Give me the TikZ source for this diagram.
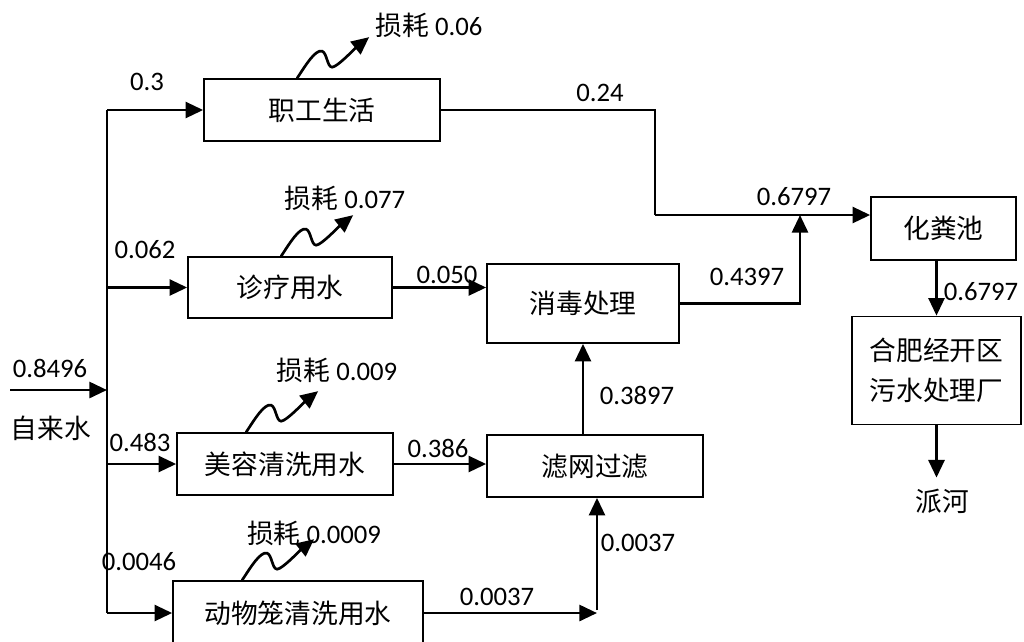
\documentclass[tikz,border=0pt]{standalone}
\usepackage{fontspec}
\setmainfont{Carlito}
\newfontfamily\cjk{Noto Sans CJK SC}
\usetikzlibrary{arrows.meta}
\usetikzlibrary{calc}
\tikzset{box/.style={draw,line width=1.2pt,inner sep=0pt},pipe/.style={line width=1.9pt},flow/.style={pipe,-{Triangle[length=0.44cm,width=0.4cm]}},wave/.style={flow,line cap=round}}

\begin{document}
\begin{tikzpicture}[x=0.025cm,y=-0.025cm,font=\fontsize{19}{23}\selectfont]
\useasboundingbox (0,0) rectangle (1024,641);
% boxes
\node (zg) at (322,110) [box,minimum width=5.9cm,minimum height=1.55cm] {\cjk 职工生活};
\node (zl) at (290,287.5) [box,minimum width=5.1cm,minimum height=1.525cm] {\cjk 诊疗用水};
\node (mr) at (285,464) [box,minimum width=5.4cm,minimum height=1.55cm] {\cjk 美容清洗用水};
\node (dw) at (298,613) [box,minimum width=6.25cm,minimum height=1.6cm] {\cjk 动物笼清洗用水};
\node (xd) at (583,303.5) [box,minimum width=4.8cm,minimum height=1.975cm] {\cjk 消毒处理};
\node (lw) at (595,466) [box,minimum width=5.4cm,minimum height=1.55cm] {\cjk 滤网过滤};
\node (hf) at (943.5,228.5) [box,minimum width=3.625cm,minimum height=1.575cm] {\cjk 化粪池};
\node (wc) at (936.5,370.5) [box,minimum width=4.225cm,minimum height=2.7cm,align=center,font=\fontsize{19}{28.5}\selectfont] {\cjk 合肥经开区\\\cjk 污水处理厂};
\node (river) at (942,501) [inner sep=0.27cm] {\cjk 派河};
% junctions
\coordinate (src) at (10,390);
\coordinate (tr) at (107,390);
\coordinate (k2) at (655,215);
\coordinate (m) at (800,215);
\coordinate (j) at (597,610);
% supply
\draw[flow] (src) -- (tr);
\draw[pipe] (tr |- zg.west) -- (tr |- dw.west);
\foreach \b in {zg,zl,mr,dw} {
\draw[flow] (tr |- \b.west) -- (\b.west);
}
% losses
\foreach \b/\dx in {zg/94,zl/94,mr/70,dw/70} {
\draw[wave] ($(\b.north west)+(\dx,0)$) .. controls +(8,-12) and +(-7,-2) .. ++(25,-27) .. controls +(5,2) and +(-5,0) .. ++(10,16) .. controls +(5,0) and +(-15,12) .. ++(37,-30);
}
% sewage
\draw[flow] (zl.east) -- (zl.east -| xd.west);
\draw[flow] (mr.east) -- (mr.east -| lw.west);
\draw[flow] (xd.south |- lw.north) -- (xd.south);
\draw[flow] (dw.east) -- (dw.east -| j);
\draw[flow] (j) -- (j |- lw.south);
\draw[pipe] (zg.east) -| (k2);
\draw[flow] (k2) -- (hf.west |- k2);
\draw[flow] (xd.east) -| (m);
\draw[flow] (wc.north |- hf.south) -- (wc.north);
\draw[flow] (wc.south) -- (wc.south |- river.north);
% labels
\node (l0) at (50,368) {0.8496};
\node (lsrc) at (51,428) {\cjk 自来水};
\node (l1) at (147,82) {0.3};
\node (l2) at (145,250) {0.062};
\node (l3) at (140,442) {0.483};
\node (l4) at (139,562) {0.0046};
\node (l5) at (600,93) {0.24};
\node (l6) at (447,275) {0.050};
\node (l7) at (438,448) {0.386};
\node (l8) at (637,395) {0.3897};
\node (l9) at (747,277) {0.4397};
\node (l10) at (794,197) {0.6797};
\node (l11) at (981,292) {0.6797};
\node (l12) at (497,597) {0.0037};
\node (l13) at (638,543) {0.0037};
\node (s1) at (429,25) {{\cjk 损耗} 0.06};
\node (s2) at (345,198) {{\cjk 损耗} 0.077};
\node (s3) at (337,370) {{\cjk 损耗} 0.009};
\node (s4) at (314,533) {{\cjk 损耗} 0.0009};
\end{tikzpicture}
\end{document}
